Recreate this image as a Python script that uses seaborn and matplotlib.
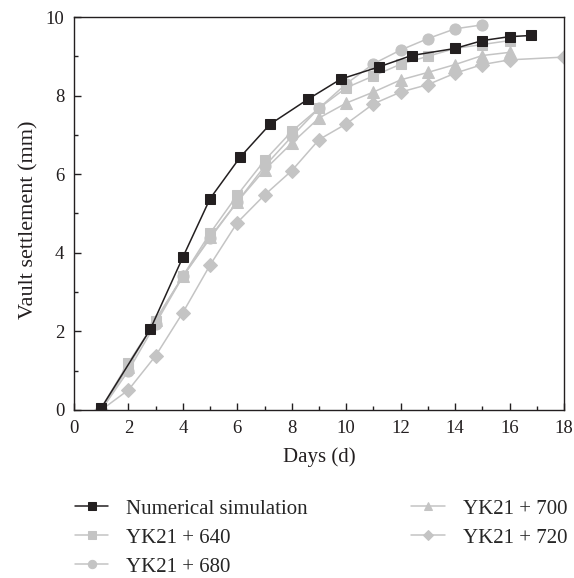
import matplotlib
matplotlib.use('Agg')
import matplotlib.pyplot as plt
from matplotlib.ticker import MultipleLocator
import seaborn as sns

# data
sim_days = [1.0, 2.8, 4.0, 5.0, 6.1, 7.2, 8.6, 9.8, 11.2, 12.4, 14.0, 15.0, 16.0, 16.8]
sim_vals = [0.05, 2.05, 3.89, 5.38, 6.43, 7.27, 7.91, 8.42, 8.73, 9.02, 9.2, 9.4, 9.5, 9.53]

days_640 = [1, 2, 3, 4, 5, 6, 7, 8, 9, 10, 11, 12, 13, 14, 15, 16]
vals_640 = [0.05, 1.2, 2.27, 3.41, 4.5, 5.47, 6.35, 7.09, 7.68, 8.2, 8.5, 8.8, 9.0, 9.2, 9.3, 9.4]

days_680 = [1, 2, 3, 4, 5, 6, 7, 8, 9, 10, 11, 12, 13, 14, 15]
vals_680 = [0.0, 1.0, 2.2, 3.4, 4.37, 5.3, 6.2, 6.96, 7.68, 8.3, 8.81, 9.16, 9.45, 9.7, 9.8]

days_700 = [1, 2, 3, 4, 5, 6, 7, 8, 9, 10, 11, 12, 13, 14, 15, 16]
vals_700 = [0.0, 1.1, 2.3, 3.4, 4.4, 5.3, 6.11, 6.79, 7.43, 7.81, 8.09, 8.4, 8.59, 8.79, 9.02, 9.1]

days_720 = [1, 2, 3, 4, 5, 6, 7, 8, 9, 10, 11, 12, 13, 14, 15, 16, 18]
vals_720 = [0.0, 0.51, 1.38, 2.48, 3.69, 4.77, 5.47, 6.09, 6.88, 7.28, 7.79, 8.09, 8.28, 8.57, 8.79, 8.91, 8.98]

sns.set_style('ticks')
plt.rcParams['font.family'] = ['Liberation Serif', 'DejaVu Serif']
plt.rcParams['xtick.direction'] = 'in'
plt.rcParams['ytick.direction'] = 'in'

ink = '#231f20'
grey = '#c4c4c4'
fig = plt.figure(figsize=(5.74, 5.78), dpi=100)
ax = fig.add_axes([74 / 574, 1 - 410 / 578, 490 / 574, 393 / 578])

series = [
    (sim_days, sim_vals, 'Numerical simulation', 's', ink, 7.5),
    (days_640, vals_640, 'YK21 + 640', 's', grey, 7.5),
    (days_680, vals_680, 'YK21 + 680', 'o', grey, 8),
    (days_700, vals_700, 'YK21 + 700', '^', grey, 8.5),
    (days_720, vals_720, 'YK21 + 720', 'D', grey, 7),
]
# grey series first so the simulation sits on top
for d, v, name, mk, col, ms in series[1:] + series[:1]:
    sns.lineplot(x=d, y=v, ax=ax, color=col, marker=mk, markersize=ms,
                 markeredgecolor=col, linewidth=1.1, label=name)

ax.set_xlim(0, 18)
ax.set_ylim(0, 10)
ax.xaxis.set_major_locator(MultipleLocator(2))
ax.xaxis.set_minor_locator(MultipleLocator(1))
ax.yaxis.set_major_locator(MultipleLocator(2))
ax.yaxis.set_minor_locator(MultipleLocator(1))
ax.tick_params(which='major', length=5, width=1, labelsize=13.5, colors=ink)
ax.tick_params(which='minor', length=3, width=1, colors=ink)
ax.tick_params(axis='x', which='major', pad=7.5)
ax.tick_params(axis='y', which='major', pad=7)
for s in ax.spines.values():
    s.set_linewidth(1)
    s.set_color(ink)
ax.set_xlabel('Days (d)', fontsize=15, color=ink)
ax.set_ylabel('Vault settlement (mm)', fontsize=16, color=ink)
ax.xaxis.set_label_coords(0.5, -0.095)
ax.yaxis.set_label_coords(-0.072, 0.485)

handles, labels = ax.get_legend_handles_labels()
order = [labels.index(s[2]) for s in series]
ax.get_legend().remove()
fig.legend([handles[i] for i in order], [labels[i] for i in order],
           loc='upper left', bbox_to_anchor=(75 / 574, 1 - 499 / 578),
           ncol=2, frameon=False, fontsize=15, handlelength=1.6,
           handletextpad=0.87, columnspacing=4.95, labelspacing=0.45,
           borderpad=0, borderaxespad=0, markerscale=0.75)

fig.savefig('out.png', dpi=100)
